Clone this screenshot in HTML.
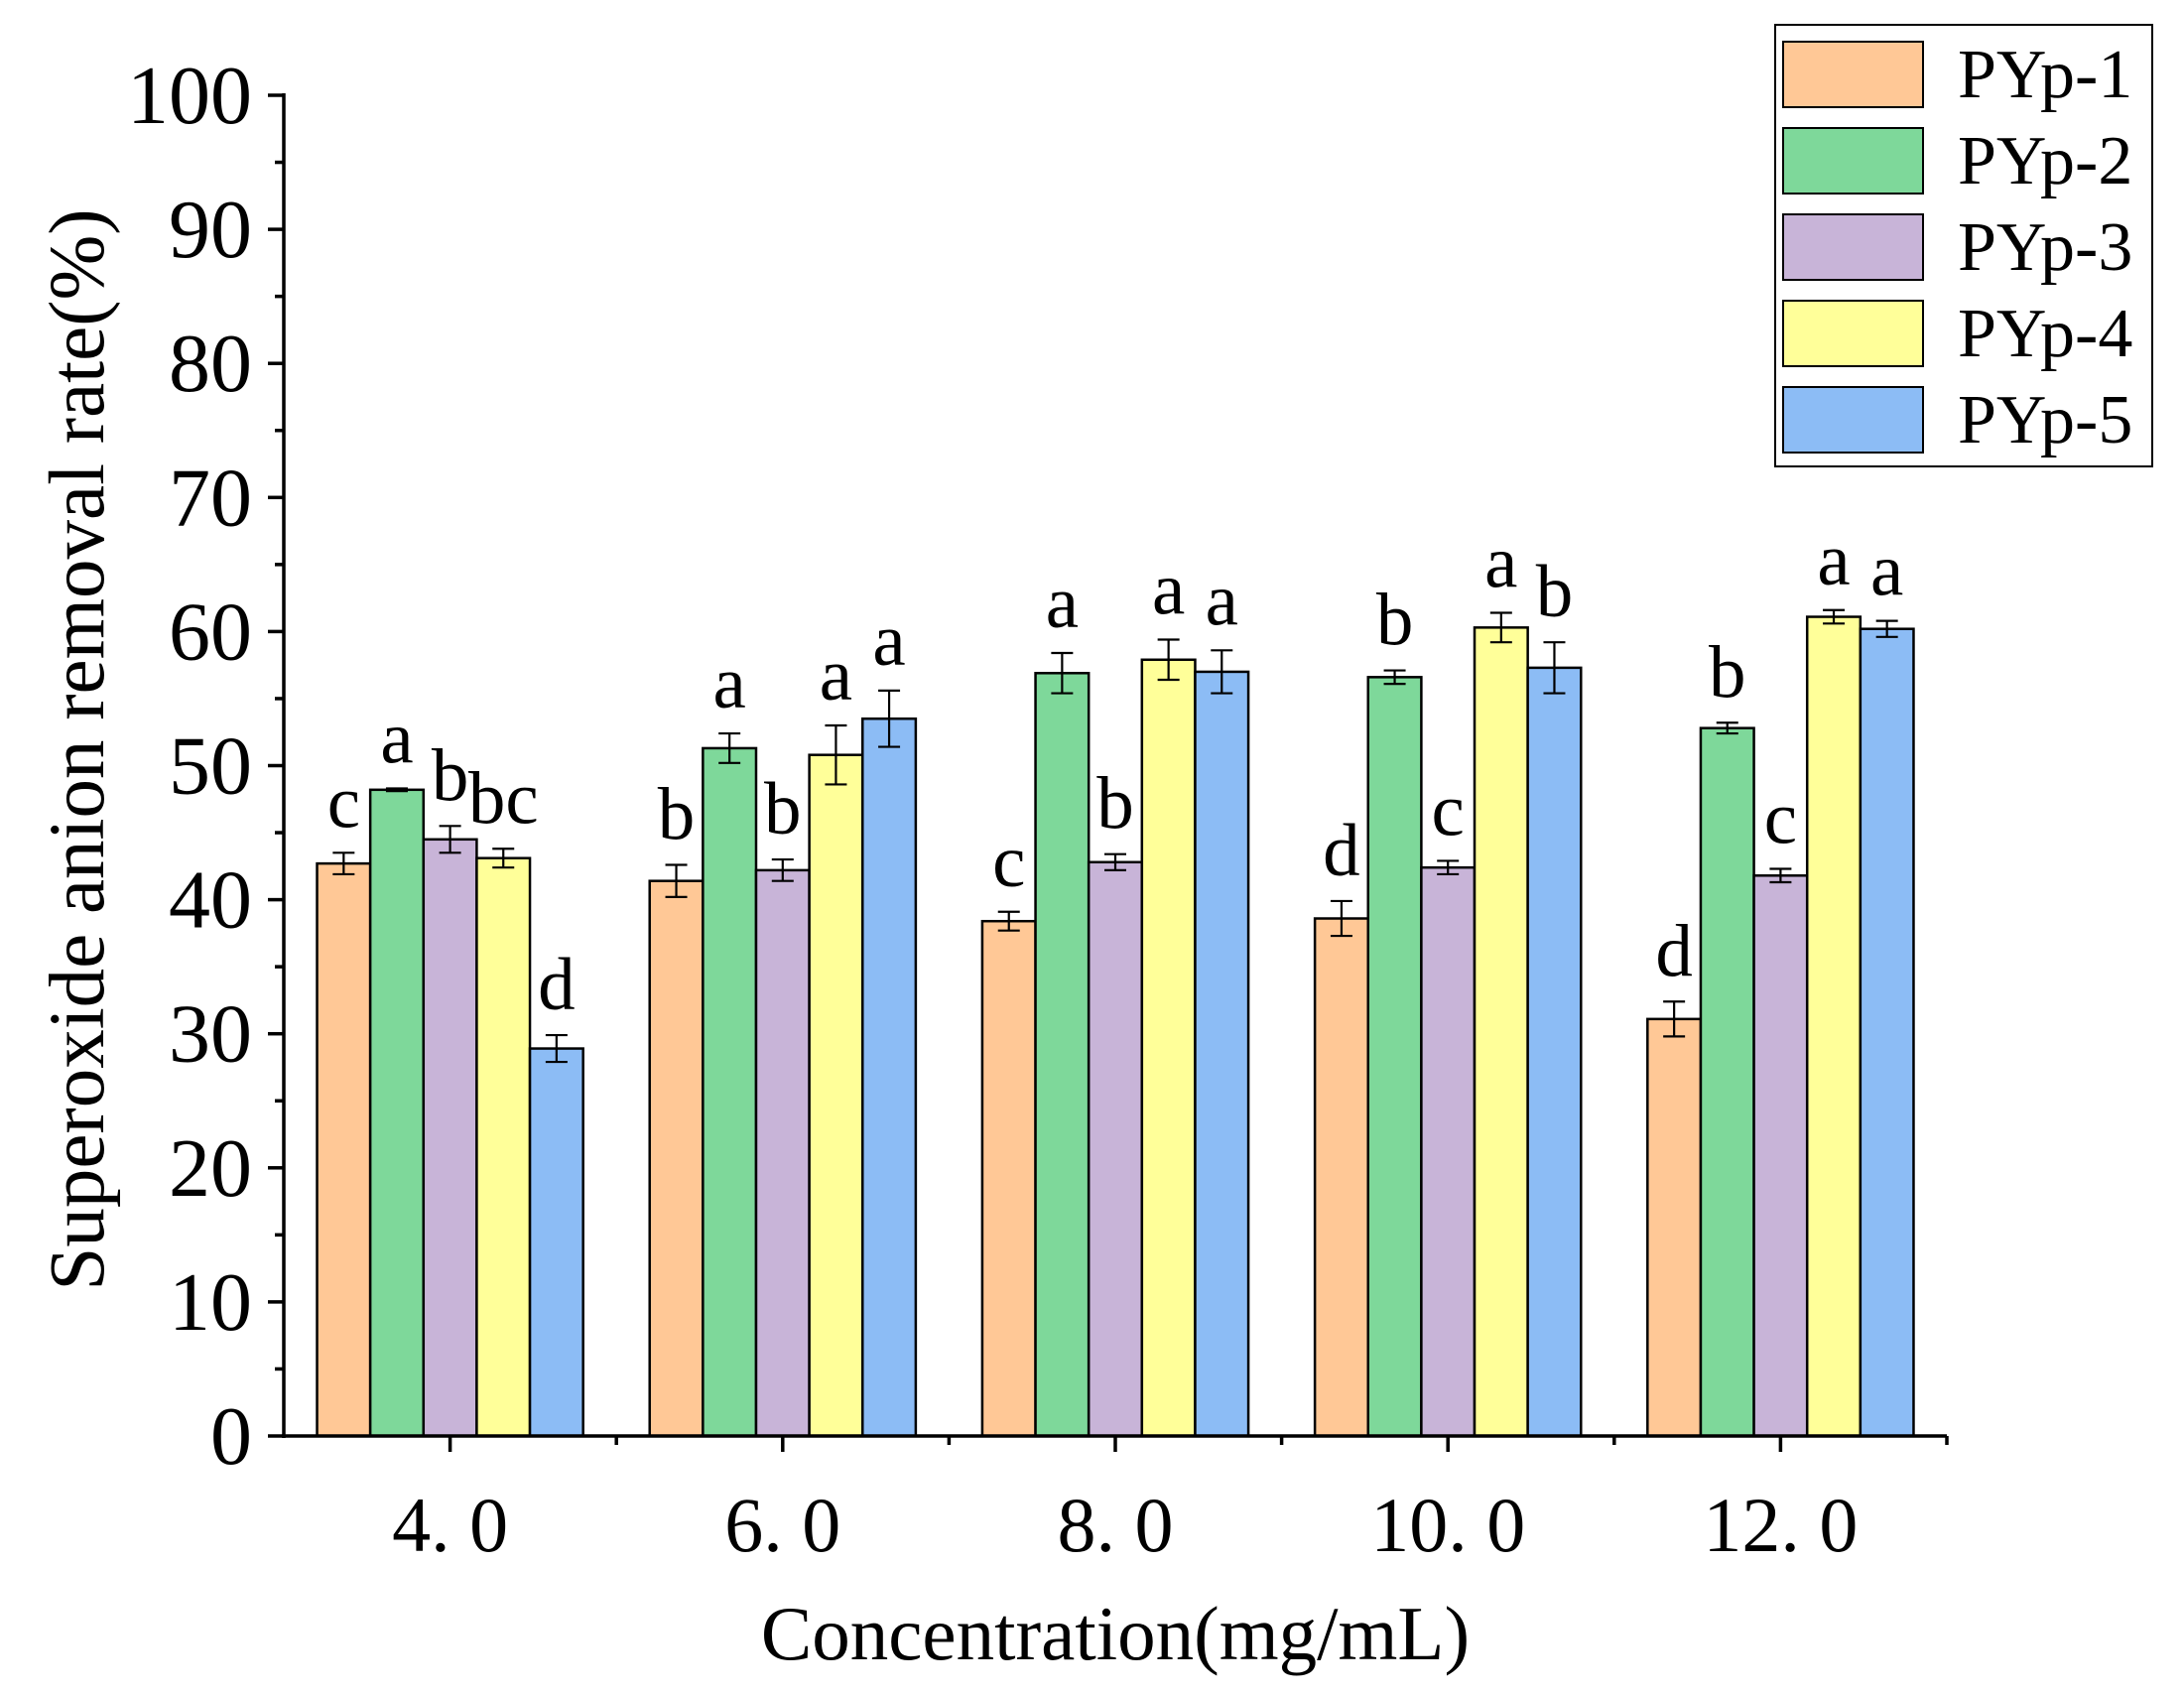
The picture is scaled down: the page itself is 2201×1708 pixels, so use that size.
<!DOCTYPE html>
<html><head><meta charset="utf-8"><style>
html,body{margin:0;padding:0;background:#fff;}
svg{display:block;font-family:"Liberation Serif","Noto Serif CJK SC",serif;}
</style></head><body>
<svg id="chart" width="2201" height="1708" viewBox="0 0 2201 1708" xmlns="http://www.w3.org/2000/svg"></svg>
<script>
const categories = ["4. 0","6. 0","8. 0","10. 0","12. 0"];
const seriesNames = ["PYp-1","PYp-2","PYp-3","PYp-4","PYp-5"];
const pyp1 = [42.7,41.4,38.4,38.6,31.1];
const pyp2 = [48.2,51.3,56.9,56.6,52.8];
const pyp3 = [44.5,42.2,42.8,42.4,41.8];
const pyp4 = [43.1,50.8,57.9,60.3,61.1];
const pyp5 = [28.9,53.5,57.0,57.3,60.2];
const err1 = [0.8,1.2,0.7,1.3,1.3];
const err2 = [0.1,1.1,1.5,0.5,0.4];
const err3 = [1.0,0.8,0.6,0.5,0.5];
const err4 = [0.7,2.2,1.5,1.1,0.5];
const err5 = [1.0,2.1,1.6,1.9,0.6];
const letters1 = ["c","b","c","d","d"];
const letters2 = ["a","a","a","b","b"];
const letters3 = ["b","b","b","c","c"];
const letters4 = ["bc","a","a","a","a"];
const letters5 = ["d","a","a","b","a"];
const yTicks = [0,10,20,30,40,50,60,70,80,90,100];

const colors = ["#FFC896","#7ED89A","#C8B4D8","#FFFF99","#8CBCF5"];
const values = [pyp1,pyp2,pyp3,pyp4,pyp5];
const errs = [err1,err2,err3,err4,err5];
const letters = [letters1,letters2,letters3,letters4,letters5];

const NS = "http://www.w3.org/2000/svg";
const svg = document.getElementById("chart");
const L = 286, R = 1962, T = 96, B = 1447;
const groupW = (R - L) / categories.length;
const barW = groupW / 6.25;
const y = v => B - (v / 100) * (B - T);
const xc = i => L + groupW * (i + 0.5);
function mk(tag, attrs, parent) {
  const e = document.createElementNS(NS, tag);
  for (const k in attrs) e.setAttribute(k, attrs[k]);
  (parent || svg).appendChild(e);
  return e;
}
// bars
values.forEach((ser, s) => {
  ser.forEach((v, i) => {
    const x = xc(i) + (s - 2.5) * barW;
    const r = mk("rect", {x: x, y: y(v), width: barW, height: B - y(v), fill: colors[s], stroke: "#000", "stroke-width": 2.5});
    
    
    const cx = x + barW / 2, e = errs[s][i];
    const g = mk("g", {stroke: "#000", "stroke-width": 2.2});
    
    
    mk("line", {x1: cx, x2: cx, y1: y(v + e), y2: y(v - e)}, g);
    mk("line", {x1: cx - 11, x2: cx + 11, y1: y(v + e), y2: y(v + e)}, g);
    mk("line", {x1: cx - 11, x2: cx + 11, y1: y(v - e), y2: y(v - e)}, g);
    const t = mk("text", {x: cx, y: y(v + e) - 26, "text-anchor": "middle", "font-size": 75, fill: "#000"});
    t.textContent = letters[s][i];
    
    
  });
});
// axes
const ax = mk("g", {stroke: "#000", "stroke-width": 3.5});


mk("line", {x1: L, x2: L, y1: T - 2, y2: B + 2}, ax);
mk("line", {x1: L - 2, x2: R, y1: B, y2: B}, ax);
yTicks.forEach(v => {
  mk("line", {x1: L - 16, x2: L, y1: y(v), y2: y(v)}, ax);
  if (v < 100) mk("line", {x1: L - 9, x2: L, y1: y(v + 5), y2: y(v + 5)}, ax);
  const t = mk("text", {x: L - 32, y: y(v) + 28, "text-anchor": "end", "font-size": 84, fill: "#000", stroke: "none"});
  t.textContent = v;
  
  
});
categories.forEach((c, i) => {
  mk("line", {x1: xc(i), x2: xc(i), y1: B, y2: B + 16}, ax);
  mk("line", {x1: L + groupW * (i + 1), x2: L + groupW * (i + 1), y1: B, y2: B + 9}, ax);
  const t = mk("text", {x: xc(i), y: B + 116, "text-anchor": "middle", "font-size": 78, fill: "#000", stroke: "none"});
  t.textContent = c;
  
  
});
const xt = mk("text", {x: (L + R) / 2, y: 1672, "text-anchor": "middle", "font-size": 77, fill: "#000"});
xt.textContent = "Concentration(mg/mL)";


const yt = mk("text", {x: 0, y: 0, "text-anchor": "middle", "font-size": 79, fill: "#000", transform: "translate(104," + ((T + B) / 2 - 16) + ") rotate(-90)"});
yt.textContent = "Superoxide anion removal rate(%)";


// legend
const lg = mk("g", {});


mk("rect", {x: 1789, y: 25, width: 380, height: 445, fill: "#fff", stroke: "#000", "stroke-width": 2}, lg);
seriesNames.forEach((n, s) => {
  const yy = 42 + s * 87;
  const r = mk("rect", {x: 1797, y: yy, width: 141, height: 66, fill: colors[s], stroke: "#000", "stroke-width": 2}, lg);
  
  
  const t = mk("text", {x: 1973, y: yy + 56, "font-size": 70, fill: "#000"}, lg);
  t.textContent = n;
  
  
});
</script>
</body></html>
